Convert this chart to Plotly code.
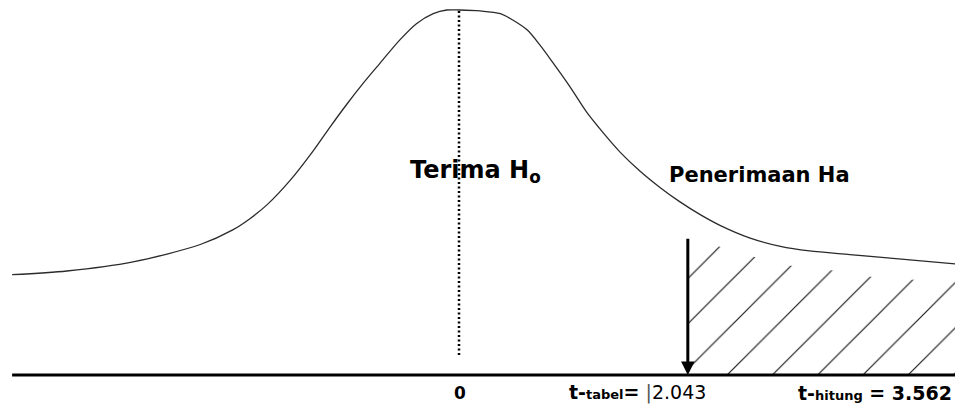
import plotly.graph_objects as go

# ---- data ----
curve_t = [-3.99, -3.50, -2.91, -2.31, -2.02, -1.87, -1.71, -1.51, -1.30, -1.15, -1.00, -0.86, -0.71,
           -0.53, -0.38, -0.23, -0.11, 0.00, 0.19, 0.37, 0.48, 0.61, 0.72, 0.84, 0.99, 1.14,
           1.29, 1.44, 1.62, 1.80, 1.97, 2.15, 2.33, 2.60, 2.87, 3.13, 3.49, 4.05, 4.49]
curve_d = [0.110, 0.114, 0.124, 0.143, 0.159, 0.171, 0.187, 0.213, 0.246, 0.272, 0.297, 0.319, 0.341,
           0.367, 0.385, 0.396, 0.400, 0.400, 0.399, 0.396, 0.389, 0.378, 0.362, 0.342, 0.316, 0.288,
           0.265, 0.244, 0.223, 0.205, 0.190, 0.176, 0.164, 0.150, 0.141, 0.136, 0.132, 0.126, 0.121]

t_tabel = 2.043
t_hitung = 3.562

# upper edge of the hatched rejection region
hatch_top_t = [2.043, 2.42, 2.87, 3.31, 3.76, 4.49]
hatch_top_d = [0.151, 0.137, 0.121, 0.115, 0.106, 0.102]

label_h0 = "Terima H<sub>o</sub>"
label_ha = "Penerimaan Ha"

# ---- figure ----
fig = go.Figure()

# hatched region
hx = hatch_top_t + [hatch_top_t[-1], hatch_top_t[0], hatch_top_t[0]]
hy = hatch_top_d + [0, 0, hatch_top_d[0]]
fig.add_trace(go.Scatter(
    x=hx, y=hy, mode="lines", fill="toself",
    line=dict(width=0, color="rgba(0,0,0,0)"),
    fillcolor="rgba(255,255,255,0)",
    fillpattern=dict(shape="/", size=32, solidity=0.035, fgcolor="#111", fgopacity=1,
                     bgcolor="rgba(255,255,255,0)"),
    hoverinfo="skip"))

# curve
fig.add_trace(go.Scatter(
    x=curve_t, y=curve_d, mode="lines",
    line=dict(color="#2b2b2b", width=1.3, shape="spline", smoothing=0.8),
    hoverinfo="skip"))

# right edge of the hatched region
fig.add_shape(type="line", xref="x", yref="y", x0=curve_t[-1], x1=curve_t[-1], y0=0, y1=curve_d[-1],
              line=dict(color="#777", width=1))

# dotted centre line
fig.add_shape(type="line", xref="x", yref="y", x0=0, x1=0, y0=0.022, y1=max(curve_d),
              line=dict(color="black", width=2.5, dash="2px,2.5px"))

# baseline
fig.add_shape(type="line", xref="x", yref="y", x0=curve_t[0], x1=4.6, y0=0, y1=0,
              line=dict(color="black", width=3))

# arrow at t-tabel
fig.add_annotation(x=t_tabel, y=0, ax=t_tabel, ay=hatch_top_d[0], xref="x", yref="y",
                   axref="x", ayref="y", showarrow=True, arrowhead=2, arrowsize=0.9,
                   arrowwidth=3, arrowcolor="black", text="")

fam = "DejaVu Sans"
fig.add_annotation(x=0.143, y=0.2225, xref="x", yref="y", showarrow=False,
                   text="<b>" + label_h0 + "</b>", font=dict(family=fam, size=24, color="black"))
fig.add_annotation(x=2.683, y=0.219, xref="x", yref="y", showarrow=False,
                   text="<b>" + label_ha + "</b>", font=dict(family=fam, size=21, color="black"))

fig.add_annotation(x=0.01, y=-0.0197, xref="x", yref="y", showarrow=False,
                   text="<b>0</b>", font=dict(family=fam, size=17, color="black"))
fig.add_annotation(x=1.594, y=-0.0197, xref="x", yref="y", showarrow=False,
                   text="<b>t-<span style='font-size:13px'>tabel</span>=</b> "
                        "<span style='color:#555'>|</span>" + f"{t_tabel:.3f}",
                   font=dict(family=fam, size=19, color="black"))
fig.add_annotation(x=3.714, y=-0.0197, xref="x", yref="y", showarrow=False,
                   text="<b>t-<span style='font-size:13px'>hitung</span> = " + f"{t_hitung:.3f}" + "</b>",
                   font=dict(family=fam, size=19, color="black"))

# the page keeps an 8px body margin, so the figure is drawn 8px smaller and the
# ranges are set so that the drawing lands where the reference has it
fig.update_xaxes(visible=False, range=[-451 / 112, 504 / 112])
fig.update_yaxes(visible=False, range=[-32 / 912.5, 367 / 912.5])
fig.update_layout(width=955, height=399, margin=dict(l=0, r=0, t=0, b=0),
                  plot_bgcolor="white", paper_bgcolor="white", showlegend=False)

fig.write_html("out.html")
